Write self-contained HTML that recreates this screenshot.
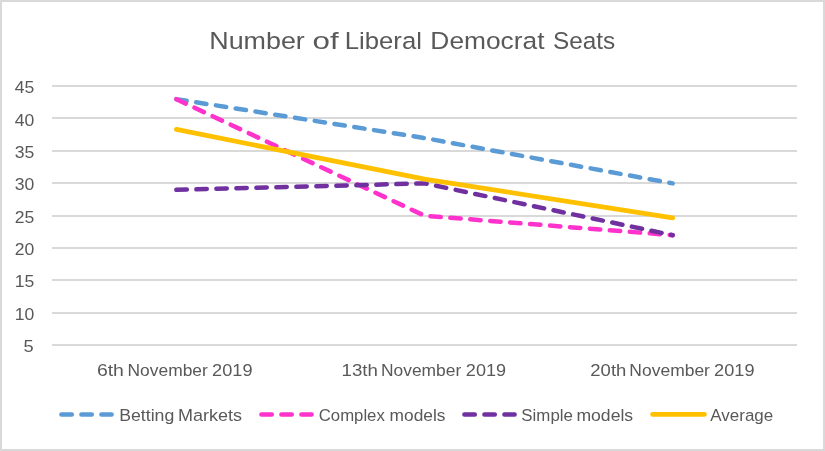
<!DOCTYPE html>
<html lang="en">
<head>
<meta charset="utf-8">
<title>Number of Liberal Democrat Seats</title>
<style>
  html, body { margin: 0; padding: 0; background: #ffffff; }
  body { width: 825px; height: 451px; overflow: hidden; }
  .chart { position: relative; width: 825px; height: 451px; box-sizing: border-box;
           border: 2px solid #d9d9d9; background: #ffffff; overflow: hidden; }
  svg { position: absolute; left: -2px; top: -2px; display: block; will-change: transform; }
  text { font-family: "Liberation Sans", sans-serif; fill: #595959; }
  .title { font-size: 24.5px; }
  .lbl { font-size: 16.8px; }
  .ylbl { font-size: 17.3px; }
  .grid line { stroke: #d9d9d9; stroke-width: 2; }
  .series polyline, .legend line { fill: none; stroke-linecap: round; stroke-linejoin: round; }
</style>
</head>
<body>
<div class="chart">
<svg width="825" height="451" viewBox="0 0 825 451">
  <text class="title" y="48.7"><tspan x="209.28" textLength="95.55" lengthAdjust="spacingAndGlyphs">Number</tspan> <tspan x="312.58" textLength="26.09" lengthAdjust="spacingAndGlyphs">of</tspan> <tspan x="344.82" textLength="77.11" lengthAdjust="spacingAndGlyphs">Liberal</tspan> <tspan x="430.39" textLength="114.11" lengthAdjust="spacingAndGlyphs">Democrat</tspan> <tspan x="553.02" textLength="62.25" lengthAdjust="spacingAndGlyphs">Seats</tspan></text>
  <g class="grid">
    <line x1="52" y1="86" x2="797" y2="86"/>
    <line x1="52" y1="118" x2="797" y2="118"/>
    <line x1="52" y1="151" x2="797" y2="151"/>
    <line x1="52" y1="183" x2="797" y2="183"/>
    <line x1="52" y1="216" x2="797" y2="216"/>
    <line x1="52" y1="248" x2="797" y2="248"/>
    <line x1="52" y1="280" x2="797" y2="280"/>
    <line x1="52" y1="313" x2="797" y2="313"/>
    <line x1="52" y1="345" x2="797" y2="345"/>
  </g>
  <g class="yaxis">
    <text class="ylbl" x="14.80" y="93" textLength="19.57" lengthAdjust="spacingAndGlyphs">45</text>
    <text class="ylbl" x="14.80" y="126" textLength="19.57" lengthAdjust="spacingAndGlyphs">40</text>
    <text class="ylbl" x="14.80" y="158.1" textLength="19.57" lengthAdjust="spacingAndGlyphs">35</text>
    <text class="ylbl" x="14.80" y="190.1" textLength="19.57" lengthAdjust="spacingAndGlyphs">30</text>
    <text class="ylbl" x="14.80" y="223" textLength="19.57" lengthAdjust="spacingAndGlyphs">25</text>
    <text class="ylbl" x="14.80" y="255" textLength="19.57" lengthAdjust="spacingAndGlyphs">20</text>
    <text class="ylbl" x="14.80" y="287" textLength="19.57" lengthAdjust="spacingAndGlyphs">15</text>
    <text class="ylbl" x="14.80" y="320" textLength="19.57" lengthAdjust="spacingAndGlyphs">10</text>
    <text class="ylbl" x="23.58" y="352" textLength="10.14" lengthAdjust="spacingAndGlyphs">5</text>
  </g>
  <g class="xaxis">
    <text class="lbl" y="376.0"><tspan x="96.90" textLength="27.05" lengthAdjust="spacingAndGlyphs">6th</tspan> <tspan x="127.57" textLength="80.23" lengthAdjust="spacingAndGlyphs">November</tspan> <tspan x="212.08" textLength="40.41" lengthAdjust="spacingAndGlyphs">2019</tspan></text>
    <text class="lbl" y="376.0"><tspan x="341.53" textLength="36.30" lengthAdjust="spacingAndGlyphs">13th</tspan> <tspan x="380.95" textLength="80.29" lengthAdjust="spacingAndGlyphs">November</tspan> <tspan x="465.85" textLength="40.18" lengthAdjust="spacingAndGlyphs">2019</tspan></text>
    <text class="lbl" y="376.0"><tspan x="590.35" textLength="35.95" lengthAdjust="spacingAndGlyphs">20th</tspan> <tspan x="629.39" textLength="80.56" lengthAdjust="spacingAndGlyphs">November</tspan> <tspan x="714.08" textLength="40.41" lengthAdjust="spacingAndGlyphs">2019</tspan></text>
  </g>
  <g class="series">
    <polyline points="176.40,99.20 424.55,138.05 672.70,183.38" stroke="#5b9bd5" stroke-width="4.5" stroke-dasharray="10.4 9.6"/>
    <polyline points="176.40,99.20 424.55,215.75 672.70,235.18" stroke="#ff33cc" stroke-width="4.5" stroke-dasharray="10.4 9.6"/>
    <polyline points="176.40,189.85 424.55,183.38 672.70,235.18" stroke="#7030a0" stroke-width="4.5" stroke-dasharray="10.4 9.6"/>
    <polyline points="176.40,129.42 424.55,179.06 672.70,217.91" stroke="#ffc000" stroke-width="4.8"/>
  </g>
  <g class="legend">
    <line x1="61.4" y1="414.4" x2="111.6" y2="414.4" stroke="#5b9bd5" stroke-width="4.5" stroke-dasharray="10.4 9.6"/>
    <text class="lbl" y="421.0"><tspan x="119.19" textLength="55.11" lengthAdjust="spacingAndGlyphs">Betting</tspan> <tspan x="178.08" textLength="64.02" lengthAdjust="spacingAndGlyphs">Markets</tspan></text>
    <line x1="261.4" y1="414.4" x2="311.6" y2="414.4" stroke="#ff33cc" stroke-width="4.5" stroke-dasharray="10.4 9.6"/>
    <text class="lbl" y="421.0"><tspan x="318.72" textLength="66.10" lengthAdjust="spacingAndGlyphs">Complex</tspan> <tspan x="389.58" textLength="55.88" lengthAdjust="spacingAndGlyphs">models</tspan></text>
    <line x1="464.4" y1="414.4" x2="514.6" y2="414.4" stroke="#7030a0" stroke-width="4.5" stroke-dasharray="10.4 9.6"/>
    <text class="lbl" y="421.0"><tspan x="521.38" textLength="51.50" lengthAdjust="spacingAndGlyphs">Simple</tspan> <tspan x="576.42" textLength="56.74" lengthAdjust="spacingAndGlyphs">models</tspan></text>
    <line x1="652.6" y1="414.4" x2="704.4" y2="414.4" stroke="#ffc000" stroke-width="4.8"/>
    <text class="lbl" y="421.0"><tspan x="710.27" textLength="62.96" lengthAdjust="spacingAndGlyphs">Average</tspan></text>
  </g>
</svg>
</div>
</body>
</html>
